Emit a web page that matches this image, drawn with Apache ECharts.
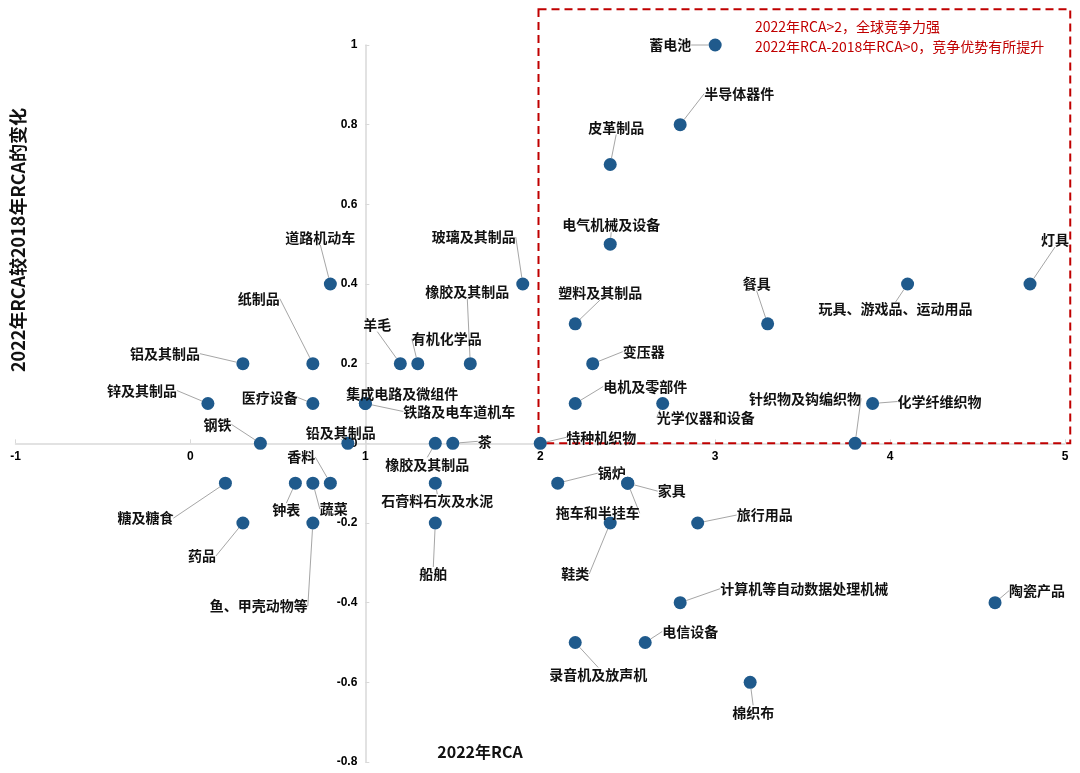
<!DOCTYPE html>
<html><head><meta charset="utf-8">
<script src="https://cdn.jsdelivr.net/npm/echarts@6/dist/echarts.min.js"></script>
<style>html,body{margin:0;padding:0;background:#fff}#c{width:1080px;height:773px}</style>
</head><body><div id="c"></div>
<script>
// ---------- data ----------
const names = ['蓄电池','半导体器件','皮革制品','电气机械及设备','灯具','玩具、游戏品、运动用品','餐具','塑料及其制品','变压器','电机及零部件','光学仪器和设备','化学纤维织物','针织物及钩编织物','特种机织物','玻璃及其制品','橡胶及其制品','有机化学品','羊毛','集成电路及微组件','铁路及电车道机车','道路机动车','纸制品','铝及其制品','锌及其制品','医疗设备','钢铁','铅及其制品','橡胶及其制品','茶','石膏料石灰及水泥','船舶','糖及糖食','钟表','蔬菜','香料','药品','鱼、甲壳动物等','锅炉','家具','拖车和半挂车','鞋类','旅行用品','计算机等自动数据处理机械','陶瓷产品','电信设备','录音机及放声机','棉织布'];
const rca2022 = [3.0,2.8,2.4,2.4,4.8,4.1,3.3,2.2,2.3,2.2,2.7,3.9,3.8,2.0,1.9,1.6,1.3,1.2,1.0,1.0,0.8,0.7,0.3,0.1,0.7,0.4,0.9,1.4,1.5,1.4,1.4,0.2,0.6,0.7,0.8,0.3,0.7,2.1,2.5,2.5,2.4,2.9,2.8,4.6,2.6,2.2,3.2];
const rcaChange = [1.0,0.8,0.7,0.5,0.4,0.4,0.3,0.3,0.2,0.1,0.1,0.1,0,0,0.4,0.2,0.2,0.2,0.1,0.1,0.4,0.2,0.2,0.1,0.1,0,0,0,0,-0.1,-0.2,-0.1,-0.1,-0.1,-0.1,-0.2,-0.2,-0.1,-0.1,-0.1,-0.2,-0.2,-0.4,-0.4,-0.5,-0.5,-0.6];
const xTickMin = -1, xTickMax = 5, xTickStep = 1;
const yTickMin = -0.8, yTickMax = 1, yTickStep = 0.2;
const xAxisTitle = '2022年RCA';
const yAxisTitle = '2022年RCA较2018年RCA的变化';
const noteLines = ['2022年RCA>2，全球竞争力强','2022年RCA-2018年RCA>0，竞争优势有所提升'];
const boxCorners = [[1.99, 0], [5.03, 1.09]];

// ---------- label layout (pixel offsets of label centre from point) ----------
const labelOffsets = [[-45,0],[59,-31],[6,-37],[1,-19],[25,-44],[-12,25],[-11,-40],[25,-31],[51,-12],[70,-17],[43,14],[67,-2],[-50,-45],[61,-6],[-49,-47],[-3,-72],[29,-25],[-23,-39],[37,-10],[94,8],[-10,-46],[-54,-65],[-78,-10],[-66,-13],[-43,-6],[-43,-19],[-7,-11],[-8,21],[32,-2],[2,18],[-2,51],[-80,35],[-9,27],[21,26],[-29,-26],[-41,33],[-54,83],[54,-10],[44,8],[-30,30],[-35,51],[67,-8],[124,-14],[42,-12],[45,-11],[23,32],[3,30]];

const chart = echarts.init(document.getElementById('c'));
const axisGray = '#d9d9d9';
const tickFont = {color:'#000', fontSize:12, fontWeight:'bold', fontFamily:'Liberation Sans, Arial, sans-serif'};

chart.setOption({
  animation:false,
  backgroundColor:'#fff',
  grid:{left:15.5, right:15, top:45, bottom:11, containLabel:false, outerBoundsMode:'none'},
  xAxis:{type:'value', position:'bottom', min:xTickMin, max:xTickMax, interval:xTickStep,
    axisLine:{show:true, onZero:false, lineStyle:{color:axisGray, width:1.5}},
    axisTick:{show:true, inside:true, length:4, lineStyle:{color:axisGray}},
    splitLine:{show:false},
    axisLabel:Object.assign({margin:7}, tickFont)},
  yAxis:{type:'value', position:'left', min:yTickMin, max:yTickMax, interval:yTickStep,
    axisLine:{show:true, onZero:false, lineStyle:{color:axisGray, width:1.5}},
    axisTick:{show:true, inside:true, length:4, lineStyle:{color:axisGray}},
    splitLine:{show:false},
    axisLabel:Object.assign({margin:8}, tickFont)},
  series:[{
    type:'scatter',
    symbolSize:13,
    itemStyle:{color:'#1f5a8c', opacity:1},
    emphasis:{disabled:true},
    data:names.map((n,i)=>({name:n, value:[rca2022[i], rcaChange[i]]})),
    label:{show:true, formatter:'{b}', position:'inside', color:'#111', fontSize:14, fontWeight:'bold', fontFamily:'"Noto Sans CJK SC", sans-serif'},
    labelLine:{show:true, lineStyle:{color:'#a6a6a6', width:1}},
    labelLayout:function(p){
      const o = labelOffsets[p.dataIndex] || [0,0];
      const cx = p.rect.x + p.rect.width/2, cy = p.rect.y + p.rect.height/2;
      return {x:cx+o[0], y:cy+o[1], align:'center', verticalAlign:'middle', hideOverlap:false};
    }
  }]
});

// cross the axes at x = 1 and y = 0, and add annotations
const xLeft = chart.convertToPixel({xAxisIndex:0}, xTickMin);
const xAt1 = chart.convertToPixel({xAxisIndex:0}, 1);
const yBottom = chart.convertToPixel({yAxisIndex:0}, yTickMin);
const yAt0 = chart.convertToPixel({yAxisIndex:0}, 0);
const b0 = chart.convertToPixel({gridIndex:0}, boxCorners[0]);
const b1 = chart.convertToPixel({gridIndex:0}, boxCorners[1]);
chart.setOption({
  yAxis:{offset:-(xAt1 - xLeft)},
  xAxis:{offset:-(yBottom - yAt0)},
  graphic:[
    {type:'rect', silent:true, z:1, shape:{x:b0[0], y:b1[1], width:b1[0]-b0[0], height:b0[1]-b1[1]},
      style:{fill:'none', stroke:'#c00000', lineWidth:2, lineDash:[8,5]}},
    {type:'text', left:755, top:20, silent:true, style:{text:noteLines[0], fill:'#c00000', fontSize:14, fontFamily:'"Liberation Sans Narrow","Noto Sans CJK SC",sans-serif'}},
    {type:'text', left:755, top:40, silent:true, style:{text:noteLines[1], fill:'#c00000', fontSize:14, fontFamily:'"Liberation Sans Narrow","Noto Sans CJK SC",sans-serif'}},
    {type:'text', x:18, y:240, rotation:Math.PI/2, silent:true, style:{text:yAxisTitle, fill:'#111', fontSize:18, fontWeight:'bold', align:'center', verticalAlign:'middle', fontFamily:'"Liberation Sans Narrow","Noto Sans CJK SC",sans-serif'}},
    {type:'text', x:480, y:752, silent:true, style:{text:xAxisTitle, fill:'#111', fontSize:16, fontWeight:'bold', align:'center', verticalAlign:'middle', fontFamily:'"Liberation Sans Narrow","Noto Sans CJK SC",sans-serif'}}
  ]
});
</script>
</body></html>
